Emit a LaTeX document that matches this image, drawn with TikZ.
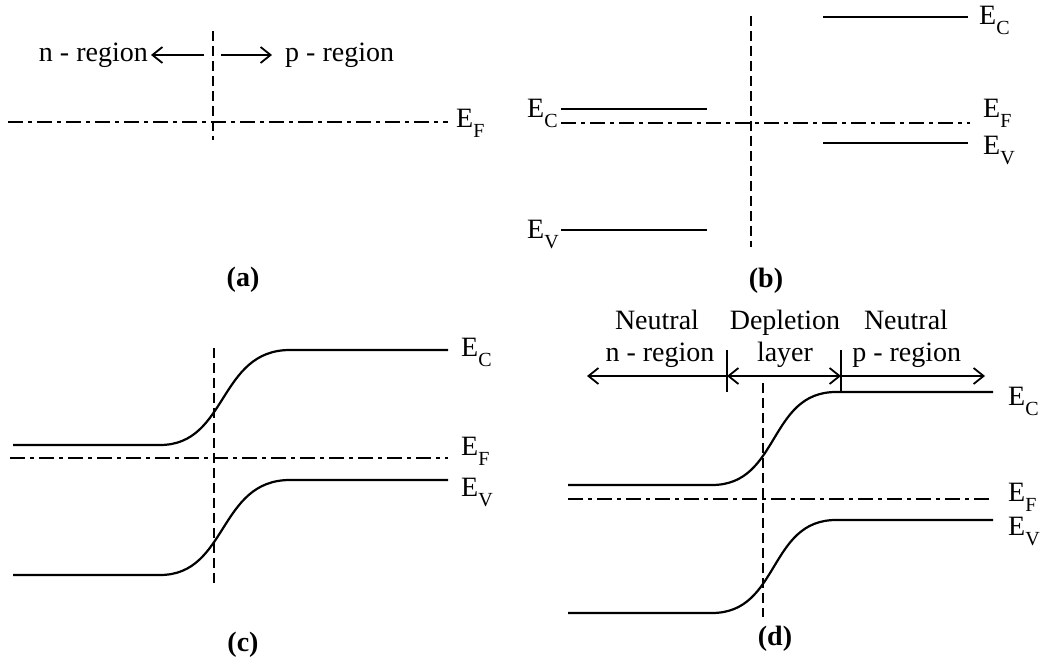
\documentclass[tikz,border=0pt]{standalone}
\usepackage{fontspec}
\setmainfont{Liberation Serif}
\usetikzlibrary{arrows.meta}
\newcommand{\lev}[1]{E\raisebox{-10pt}{\fontsize{20}{20}\selectfont #1}}
\begin{document}
\begin{tikzpicture}[x=1pt,y=-1pt,
  every node/.style={inner sep=0pt, font=\fontsize{28}{33}\selectfont},
  lbl/.style={anchor=base west},
  capt/.style={anchor=base, font=\fontsize{28}{33}\selectfont\bfseries},
  band/.style={line width=2.2pt},
  fermi/.style={line width=2pt, dash pattern=on 15pt off 5pt on 4pt off 5pt},
  junc/.style={line width=1.7pt, dash pattern=on 10pt off 5pt},
  arr/.style={line width=1.8pt, -{Straight Barb[length=10pt,width=16pt]}},
  darr/.style={line width=1.8pt, {Straight Barb[length=10pt,width=16pt]}-{Straight Barb[length=10pt,width=16pt]}},
  tick/.style={line width=1.6pt},
]
\useasboundingbox (0,0) rectangle (1044,660);

% ---------- (a) ----------
\coordinate (aJt) at (213,31); \coordinate (aJb) at (213,140);
\draw[junc] (aJt) -- (aJb);
\coordinate (aF0) at (8,122); \coordinate (aF1) at (448,122);
\draw[fermi] (aF0) -- (aF1);
\node[lbl] (aEF) at (456,128) {\lev{F}};
\coordinate (aL0) at (204,55); \coordinate (aL1) at (151,55);
\draw[arr] (aL0) -- (aL1);
\node[anchor=base east] (an) at (148,61.7) {n - region};
\coordinate (aR0) at (221,55); \coordinate (aR1) at (272,55);
\draw[arr] (aR0) -- (aR1);
\node[anchor=base west] (ap) at (285,61.7) {p - region};
\node[capt] (acap) at (243,287) {(a)};

% ---------- (b) ----------
\coordinate (bJt) at (751,16); \coordinate (bJb) at (751,247);
\draw[junc] (bJt) -- (bJb);
\coordinate (bC0) at (561,108.7); \coordinate (bC1) at (707,108.7);
\draw[band] (bC0) -- (bC1);
\coordinate (bF0) at (561,122.7); \coordinate (bF1) at (970,122.7);
\draw[fermi] (bF0) -- (bF1);
\coordinate (bV0) at (561,230); \coordinate (bV1) at (707,230);
\draw[band] (bV0) -- (bV1);
\coordinate (bC2) at (823,17.3); \coordinate (bC3) at (968,17.3);
\draw[band] (bC2) -- (bC3);
\coordinate (bV2) at (823,142.7); \coordinate (bV3) at (968,142.7);
\draw[band] (bV2) -- (bV3);
\node[lbl] (bECl) at (527,118) {\lev{C}};
\node[lbl] (bEVl) at (527,239) {\lev{V}};
\node[lbl] (bECr) at (979,25) {\lev{C}};
\node[lbl] (bEFr) at (983,118) {\lev{F}};
\node[lbl] (bEVr) at (983,155) {\lev{V}};
\node[capt] (bcap) at (766,288) {(b)};

% ---------- (c) ----------
\coordinate (cJt) at (214,348); \coordinate (cJb) at (214,586);
\draw[junc] (cJt) -- (cJb);
\coordinate (cC0) at (13,445); \coordinate (cC1) at (160,445);
\coordinate (cC2) at (290,350); \coordinate (cC3) at (448,350);
\draw[band] (cC0) -- (cC1) .. controls (228,445) and (218,350) .. (cC2) -- (cC3);
\coordinate (cF0) at (10,457.7); \coordinate (cF1) at (448,457.7);
\draw[fermi] (cF0) -- (cF1);
\coordinate (cV0) at (13,575); \coordinate (cV1) at (160,575);
\coordinate (cV2) at (290,480); \coordinate (cV3) at (448,480);
\draw[band] (cV0) -- (cV1) .. controls (228,575) and (218,480) .. (cV2) -- (cV3);
\node[lbl] (cEC) at (461,356.7) {\lev{C}};
\node[lbl] (cEF) at (461,455) {\lev{F}};
\node[lbl] (cEV) at (461,496.7) {\lev{V}};
\node[capt] (ccap) at (243,651) {(c)};

% ---------- (d) ----------
\coordinate (dJt) at (763,383); \coordinate (dJb) at (763,617);
\draw[junc] (dJt) -- (dJb);
\coordinate (dC0) at (568,485); \coordinate (dC1) at (712,485);
\coordinate (dC2) at (836,392); \coordinate (dC3) at (993,392);
\draw[band] (dC0) -- (dC1) .. controls (780,485) and (768,392) .. (dC2) -- (dC3);
\coordinate (dF0) at (568,499); \coordinate (dF1) at (993,499);
\draw[fermi] (dF0) -- (dF1);
\coordinate (dV0) at (568,613); \coordinate (dV1) at (712,613);
\coordinate (dV2) at (836,520); \coordinate (dV3) at (993,520);
\draw[band] (dV0) -- (dV1) .. controls (780,613) and (768,520) .. (dV2) -- (dV3);
\coordinate (dT1t) at (727,350); \coordinate (dT1b) at (727,392);
\coordinate (dT2t) at (841,350); \coordinate (dT2b) at (841,392);
\draw[tick] (dT1t) -- (dT1b);
\draw[tick] (dT2t) -- (dT2b);
\coordinate (dA1) at (727,376); \coordinate (dA0) at (587,376);
\coordinate (dA2) at (841,376); \coordinate (dA3) at (985,376);
\draw[arr] (dA1) -- (dA0);
\draw[darr] (dA1) -- (dA2);
\draw[arr] (dA2) -- (dA3);
\node[anchor=base] (dn1) at (657,329) {Neutral};
\node[anchor=base] (dn2) at (660,361.7) {n - region};
\node[anchor=base] (dd1) at (785,329) {Depletion};
\node[anchor=base] (dd2) at (785,361.7) {layer};
\node[anchor=base] (dp1) at (906,329) {Neutral};
\node[anchor=base] (dp2) at (906.7,361.7) {p - region};
\node[lbl] (dEC) at (1008,405) {\lev{C}};
\node[lbl] (dEF) at (1008,501.7) {\lev{F}};
\node[lbl] (dEV) at (1008,535) {\lev{V}};
\node[capt] (dcap) at (775,645) {(d)};
\end{tikzpicture}
\end{document}
